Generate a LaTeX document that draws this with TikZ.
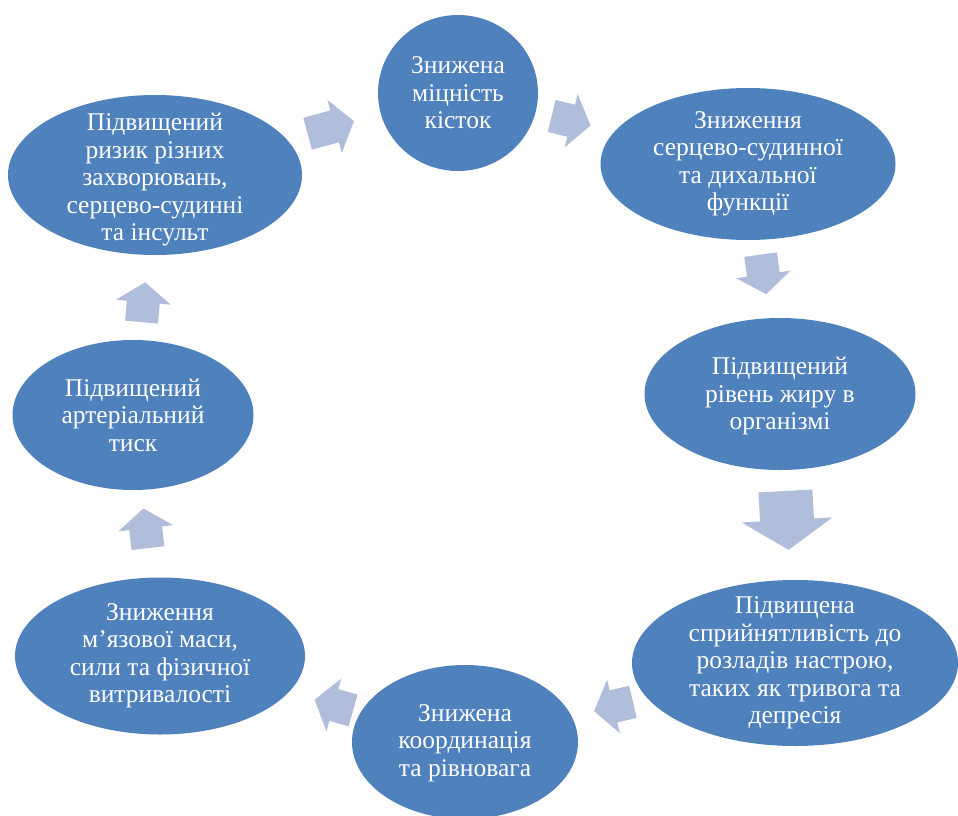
\documentclass[tikz,border=0pt]{standalone}
\usepackage{fontspec}
\setmainfont{Liberation Serif}
\usetikzlibrary{shapes.geometric, calc}
\definecolor{ellblue}{RGB}{79,129,189}
\definecolor{arrblue}{RGB}{176,190,219}

\begin{document}
\begin{tikzpicture}[x=1pt, y=-1pt,
    bubble/.style={ellipse, fill=ellblue, inner sep=0pt},
    txt/.style={text=white, align=center, font=\fontsize{25.5}{27.5}\selectfont},
    blockarr/.style={fill=arrblue}]

  \useasboundingbox (0,0) rectangle (958,816);

  % ELLIPSES
  \node[bubble, minimum width=160pt, minimum height=156pt,
    label={[txt]center:Знижена\\міцність\\кісток}] (e1) at (458,93) {};
  \node[bubble, minimum width=295pt, minimum height=152pt,
    label={[txt]center:Зниження\\серцево-судинної\\та дихальної\\функції}] (e2) at (748,164) {};
  \node[bubble, minimum width=271pt, minimum height=152pt,
    label={[txt, yshift=-2pt]center:Підвищений\\рівень жиру в\\організмі}] (e3) at (780,394) {};
  \node[bubble, minimum width=326pt, minimum height=166pt,
    label={[txt]center:Підвищена\\сприйнятливість до\\розладів настрою,\\таких як тривога та\\депресія}] (e4) at (795,663) {};
  \node[bubble, minimum width=226pt, minimum height=154pt,
    label={[txt, yshift=-1pt]center:Знижена\\координація\\та рівновага}] (e5) at (465,742) {};
  \node[bubble, minimum width=290pt, minimum height=157pt,
    label={[txt]center:Зниження\\м’язової маси,\\сили та фізичної\\витривалості}] (e6) at (160,656) {};
  \node[bubble, minimum width=241pt, minimum height=150pt,
    label={[txt]center:Підвищений\\артеріальний\\тиск}] (e7) at (133,415) {};
  \node[bubble, minimum width=294pt, minimum height=160pt,
    label={[txt, yshift=-5pt]center:Підвищений\\ризик різних\\захворювань,\\серцево-судинні\\та інсульт}] (e8) at (155,175) {};

  % ARROWS (length/head width/shaft width/head length)
  \foreach \a/\b/\t/\L/\W/\S/\H in {e8/e1/0.58/48/55/33/20, e1/e2/0.39/40/55/33/20,
      e2/e3/0.48/40/55/33/20, e3/e4/0.47/59/91/54/30, e4/e5/0.55/40/55/33/20,
      e5/e6/0.43/40/55/33/20, e6/e7/0.53/40/55/33/20, e7/e8/0.47/40/55/33/20}{
    \pgfmathanglebetweenpoints{\pgfpointanchor{\a}{center}}{\pgfpointanchor{\b}{center}}
    \let\ang\pgfmathresult
    \fill[blockarr, shift={($(\a)!\t!(\b)$)}, rotate=\ang]
      (-\L/2,-\S/2) -- (\L/2-\H,-\S/2) -- (\L/2-\H,-\W/2) -- (\L/2,0)
      -- (\L/2-\H,\W/2) -- (\L/2-\H,\S/2) -- (-\L/2,\S/2) -- cycle;
  }
\end{tikzpicture}
\end{document}
